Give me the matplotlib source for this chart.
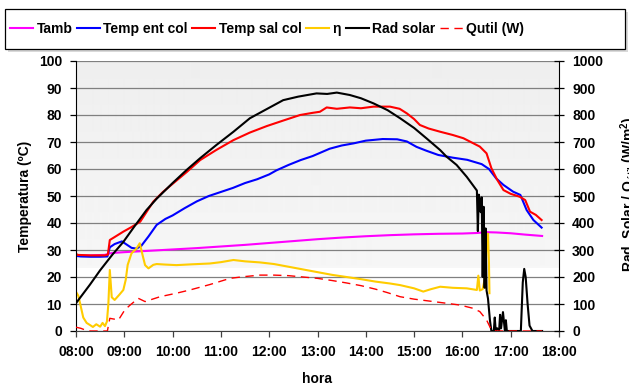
import numpy as np
import matplotlib
matplotlib.use('Agg')
import matplotlib.pyplot as plt
from matplotlib.patches import Rectangle

plt.rcParams['font.family'] = ['Liberation Sans', 'DejaVu Sans']
plt.rcParams['font.weight'] = 'bold'
plt.rcParams['font.size'] = 10
plt.rcParams['mathtext.fontset'] = 'custom'
plt.rcParams['mathtext.rm'] = 'Liberation Sans:bold'
plt.rcParams['mathtext.it'] = 'Liberation Sans:bold'
plt.rcParams['mathtext.bf'] = 'Liberation Sans:bold'

# time of day in decimal hours
hour_ticks = [8, 9, 10, 11, 12, 13, 14, 15, 16, 17, 18]
hour_labels = ['08:00', '09:00', '10:00', '11:00', '12:00', '13:00',
               '14:00', '15:00', '16:00', '17:00', '18:00']

# ambient temperature (ºC)
tamb_t = [8.0, 8.3, 8.6, 8.67, 8.75, 9.0, 9.5, 10.0, 10.5, 11.0, 11.5, 12.0, 12.5,
          13.0, 13.5, 14.0, 14.5, 15.0, 15.5, 16.0, 16.3, 16.5, 16.7, 17.0, 17.3, 17.65]
tamb = [28.0, 28.0, 28.2, 28.6, 28.9, 29.2, 29.7, 30.2, 30.7, 31.3, 31.9, 32.6, 33.3,
        34.0, 34.6, 35.1, 35.5, 35.8, 36.0, 36.1, 36.3, 36.6, 36.5, 36.2, 35.7, 35.2]

# collector inlet temperature (ºC)
tin_t = [8.0, 8.1, 8.3, 8.5, 8.65, 8.7, 8.8, 8.95, 9.05, 9.15, 9.25, 9.35, 9.5, 9.67,
         9.85, 10.0, 10.25, 10.5, 10.75, 11.0, 11.25, 11.5, 11.75, 12.0, 12.15, 12.4,
         12.65, 12.9, 13.25, 13.5, 13.75, 14.0, 14.35, 14.65, 14.85, 15.05, 15.25, 15.5,
         15.8, 16.1, 16.4, 16.55, 16.7, 16.85, 17.05, 17.2, 17.33, 17.47, 17.64]
tin = [27.8, 27.6, 27.5, 27.5, 27.6, 31.0, 32.2, 33.2, 32.0, 30.8, 30.5, 31.5, 35.0, 39.3,
       41.5, 42.8, 45.5, 48.0, 50.0, 51.5, 53.0, 54.8, 56.2, 58.0, 59.5, 61.5,
       63.3, 64.8, 67.5, 68.7, 69.5, 70.5, 71.1, 71.0, 70.2, 68.2, 66.8, 65.2,
       64.2, 63.4, 61.8, 60.0, 56.5, 54.1, 51.6, 50.4, 44.8, 41.1, 38.3]

# collector outlet temperature (ºC)
tout_t = [8.0, 8.02, 8.3, 8.6, 8.66, 8.7, 8.8, 8.98, 9.15, 9.33, 9.6, 9.8, 10.0, 10.3,
          10.57, 10.9, 11.26, 11.6, 11.95, 12.3, 12.64, 12.9, 13.05, 13.19, 13.4, 13.67,
          13.9, 14.16, 14.5, 14.7, 14.85, 15.0, 15.12, 15.3, 15.54, 15.8, 16.02, 16.36,
          16.5, 16.6, 16.72, 16.85, 17.0, 17.19, 17.3, 17.4, 17.52, 17.64]
tout = [28.9, 28.2, 28.0, 28.0, 28.3, 33.7, 34.8, 36.8, 38.5, 40.5, 47.9, 51.5, 54.5, 59.0,
        63.3, 67.0, 70.7, 73.5, 75.9, 78.0, 80.0, 80.8, 81.2, 82.8, 82.3, 82.8,
        82.5, 83.1, 83.1, 82.3, 80.6, 78.5, 76.3, 75.0, 73.8, 72.6, 71.4, 68.3,
        65.8, 60.3, 56.0, 52.2, 50.8, 49.7, 48.5, 44.2, 43.0, 41.1]

# collector efficiency (%)
eta_t = [8.0, 8.05, 8.1, 8.15, 8.22, 8.29, 8.35, 8.42, 8.5, 8.55, 8.6, 8.64, 8.67, 8.7,
         8.74, 8.8, 8.9, 8.98, 9.03, 9.07, 9.15, 9.25, 9.32, 9.38, 9.43, 9.5, 9.6, 9.67,
         9.85, 10.08, 10.4, 10.77, 11.0, 11.26, 11.5, 11.81, 12.1, 12.4, 12.7, 13.0,
         13.3, 13.6, 13.9, 14.2, 14.5, 14.71, 15.0, 15.19, 15.35, 15.54, 15.8, 16.09,
         16.3, 16.33, 16.36, 16.42, 16.47, 16.5, 16.53, 16.55, 16.56]
eta = [14.5, 13.0, 9.0, 5.0, 3.0, 2.2, 1.5, 2.5, 1.6, 3.0, 1.8, 3.5, 10.0, 22.6,
       12.5, 11.5, 13.5, 15.2, 19.0, 24.5, 28.8, 30.5, 32.5, 28.0, 24.4, 23.2, 24.5, 24.8,
       24.6, 24.4, 24.7, 25.0, 25.5, 26.3, 25.8, 25.4, 24.8, 23.8, 22.8, 21.8,
       20.8, 20.0, 19.2, 18.3, 17.6, 17.0, 15.8, 14.6, 15.5, 16.4, 16.0, 15.8,
       15.2, 20.5, 15.0, 15.5, 20.0, 31.0, 36.0, 25.0, 14.0]

# solar irradiance (W/m2)
rad_t = [8.0, 8.29, 8.5, 8.75, 8.98, 9.2, 9.46, 9.67, 10.0, 10.3, 10.57, 10.9, 11.26,
         11.6, 11.95, 12.29, 12.6, 12.98, 13.2, 13.4, 13.67, 13.9, 14.16, 14.45, 14.71,
         15.0, 15.26, 15.54, 15.67, 15.88, 16.09, 16.3, 16.32, 16.34, 16.36, 16.38,
         16.40, 16.42, 16.44, 16.46, 16.48, 16.5, 16.53, 16.57, 16.6, 16.65, 16.67,
         16.69, 16.72, 16.76, 16.78, 16.8, 16.84, 16.88, 16.9, 16.92, 16.95, 17.0,
         17.15, 17.21, 17.25, 17.28, 17.31, 17.35, 17.39, 17.45, 17.65]
rad = [103, 172, 225, 282, 330, 385, 448, 490, 548, 598, 640, 688, 738,
       788, 822, 855, 868, 880, 878, 883, 874, 862, 843, 818, 788,
       752, 713, 670, 646, 615, 571, 520, 370, 505, 480, 440,
       495, 200, 460, 160, 380, 150, 120, 40, 0, 0, 50,
       0, 10, 0, 60, 10, 70, 0, 40, 0, 0, 0,
       0, 0, 180, 230, 200, 100, 20, 0, 0]

# useful heat (W)
q_t = [8.0, 8.1, 8.2, 8.3, 8.5, 8.65, 8.7, 8.88, 9.01, 9.12, 9.29, 9.43, 9.74, 10.08,
       10.36, 10.77, 11.19, 11.46, 11.81, 12.1, 12.4, 12.7, 13.0, 13.3, 13.6, 13.9,
       14.2, 14.45, 14.71, 15.0, 15.4, 15.7, 15.95, 16.2, 16.36, 16.5, 16.6, 16.7,
       17.0, 17.3, 17.65]
q = [14, 10, 3, 0, 0, 0, 47, 41, 78, 96, 121, 109, 127, 140,
     152, 172, 195, 201, 207, 207, 205, 200, 195, 187, 178, 168,
     155, 142, 127, 118, 109, 102, 96, 85, 72, 41, 4, 0,
     0, 0, 0]

fig = plt.figure(figsize=(6.29, 3.87), dpi=100)
ax = fig.add_axes([76 / 629, 56 / 387, 483 / 629, 270 / 387])
ax2 = ax.twinx()

# plot area fill: light gray band on top, white near the bottom
shade = np.ones((270, 1))
shade[:207, 0] = np.linspace(0.935, 0.965, 207)
ax.imshow(shade, extent=(0, 1, 0, 1), transform=ax.transAxes, aspect='auto',
          cmap='gray', vmin=0, vmax=1, zorder=-1, interpolation='bilinear')

l1, = ax.plot(tamb_t, tamb, color='#ff00ff', lw=1.5, label='Tamb')
l2, = ax.plot(tin_t, tin, color='#0000ff', lw=1.5, label='Temp ent col')
l3, = ax.plot(tout_t, tout, color='#ff0000', lw=1.5, label='Temp sal col')
l4, = ax.plot(eta_t, eta, color='#ffcc00', lw=1.5, label='η')
l5, = ax2.plot(rad_t, rad, color='black', lw=1.5, label='Rad solar')
l6, = ax2.plot(q_t, q, color='#ff0000', lw=1.0, dashes=(6, 4), label='Qutil (W)')

ax.set_xlim(8, 18)
ax.set_ylim(0, 100)
ax2.set_ylim(0, 1000)
ax.set_xticks(hour_ticks)
ax.set_xticklabels(hour_labels)
ax.set_yticks(range(0, 101, 10))
ax2.set_yticks(range(0, 1001, 100))

ax.set_axisbelow(True)
ax.yaxis.grid(True, color='#808080', lw=0.9)
ax.xaxis.grid(False)

for s in ['top', 'right']:
    ax.spines[s].set_visible(False)
for s in ['top', 'bottom', 'left']:
    ax2.spines[s].set_visible(False)
ax.spines['left'].set_color('black')
ax.spines['bottom'].set_color('#404040')
ax2.spines['right'].set_color('black')

ax.tick_params(axis='y', direction='out', length=4, width=0.9, pad=6)
ax.tick_params(axis='x', direction='out', length=4, width=0.9, pad=6, color='#404040')
ax2.tick_params(axis='y', direction='inout', length=7, width=0.9, pad=6)

fig.text(25 / 629, 1 - 196 / 387, 'Temperatura (ºC)', rotation=90,
         ha='center', va='center')
fig.text(317 / 629, 1 - 379 / 387, 'hora', ha='center', va='center')
fig.text(618 / 629, 1 - 194 / 387, 'Rad. Solar / Q$_{útil}$ (W/m$^{2}$)',
         rotation=90, ha='left', va='center')

# legend box with a small drop shadow
fig.patches.append(Rectangle((8 / 629, 1 - 52 / 387), 620 / 629, 40 / 387,
                             transform=fig.transFigure, facecolor='#d9d9d9',
                             edgecolor='none', zorder=0))
fig.patches.append(Rectangle((5 / 629, 1 - 49 / 387), 620 / 629, 40 / 387,
                             transform=fig.transFigure, facecolor='white',
                             edgecolor='black', lw=0.9, zorder=1))
fig.legend(handles=[l1, l2, l3, l4, l5, l6], loc='center left',
           bbox_to_anchor=(10 / 629, 1 - 29 / 387), ncol=6, frameon=False,
           borderpad=0, borderaxespad=0, handlelength=1.65, handletextpad=0.25,
           columnspacing=0.33)

fig.savefig('out.png', dpi=100)
